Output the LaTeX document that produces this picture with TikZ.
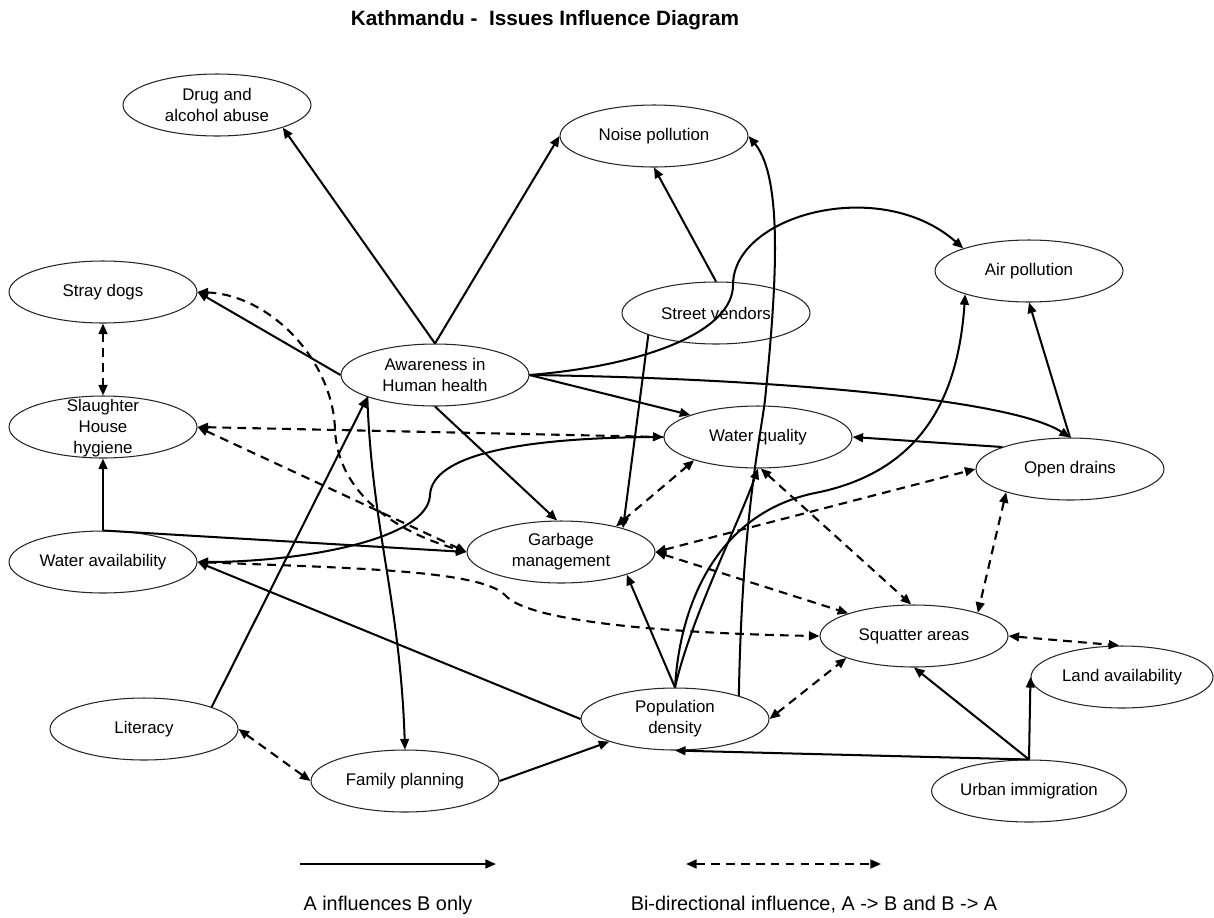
\documentclass[tikz,border=0pt]{standalone}
\usepackage{fontspec}
\setmainfont{Liberation Sans}
\usetikzlibrary{shapes.geometric,arrows.meta}
\tikzset{
    issue/.style = {ellipse, draw=black!85, line width=0.6pt, minimum width=3.76cm, minimum height=1.24cm,
                    inner sep=0pt, align=center, font=\fontsize{9.6}{11.9}\selectfont},
    infl/.style = {line width=1.15pt, -{Triangle[length=6pt,width=5pt]}},
    bidir/.style = {line width=1.2pt, dash pattern=on 5pt off 3.5pt,
                    {Triangle[length=6pt,width=5pt]}-{Triangle[length=6pt,width=5pt]}},
    legend/.style = {font=\fontsize{11.3}{13.5}\selectfont}
}

\begin{document}
\begin{tikzpicture}[x=0.02cm, y=-0.02cm]
        \useasboundingbox (0,0) rectangle (1214,917);

        \node[font=\bfseries\fontsize{11.8}{14}\selectfont] (title) at (545,20) {Kathmandu -\ \ Issues Influence Diagram};

        % issues
        \node[issue] (drug) at (217,105) {Drug and\\alcohol abuse};
        \node[issue] (noise) at (654,136) {Noise pollution};
        \node[issue] (stray) at (103,292) {Stray dogs};
        \node[issue] (slaughter) at (103,427) {};
        \node[align=center, font=\fontsize{9.6}{11.9}\selectfont] (slaughtertxt) at (103,428) {Slaughter\\House\\hygiene};
        \node[issue] (wavail) at (103,562) {Water availability};
        \node[issue] (aware) at (435,375) {Awareness in\\Human health};
        \node[issue] (garbage) at (561,552) {Garbage\\management};
        \node[issue] (vendors) at (716,313) {Street vendors};
        \node[issue] (air) at (1029,271) {Air pollution};
        \node[issue] (wquality) at (758,437) {Water quality};
        \node[issue] (drains) at (1070,469) {Open drains};
        \node[issue] (squatter) at (914,636) {Squatter areas};
        \node[issue, minimum width=3.64cm] (land) at (1122,677) {Land availability};
        \node[issue] (urban) at (1029,791) {Urban immigration};
        \node[issue] (pop) at (675,719) {Population\\density};
        \node[issue] (literacy) at (144,729) {Literacy};
        \node[issue] (family) at (405,781) {Family planning};

        % one way
        \draw[infl] (aware.90) -- (drug.-19);
        \draw[infl] (aware.90) -- (noise.180);
        \draw[infl] (aware.180) -- (stray.0);
        \draw[infl] (aware.east) -- (wquality.162);
        \draw[infl] (aware.east) .. controls (650,365) and (733,330) .. (733,285) .. controls (733,215) and (880,175) .. (air.161);
        \draw[infl] (aware.east) .. controls (760,378) and (1010,398) .. (drains.90);
        \draw[infl] (aware.-90) -- (garbage.97);
        \draw[infl] (aware.-162) .. controls (372,530) and (400,600) .. (family.90);
        \draw[infl] (literacy.18) -- (aware.-162);
        \draw[infl] (family.0) -- (pop.-161);
        \draw[infl] (pop.180) -- (wavail.0);
        \draw[infl] (wquality.180) .. controls (520,437) and (432,455) .. (430,495) .. controls (428,540) and (300,562) .. (wavail.0);
        \draw[infl] (wavail.90) -- (slaughter.-90);
        \draw[infl] (wavail.90) -- (garbage.180);
        \draw[infl] (vendors.90) -- (noise.-90);
        \draw[infl] (vendors.-162) -- (garbage.21);
        \draw[infl] (pop.20) .. controls (742,520) and (760,440) .. (765,400) .. controls (775,300) and (785,180) .. (noise.0);
        \draw[infl] (pop.90) -- (garbage.-19);
        \draw[infl] (pop.90) .. controls (690,620) and (740,520) .. (wquality.-90);
        \draw[infl] (pop.90) .. controls (680,600) and (720,510) .. (820,492) .. controls (920,470) and (958,400) .. (air.-160);
        \draw[infl] (drains.90) -- (air.-90);
        \draw[infl] (drains.162) -- (wquality.0);
        \draw[infl] (urban.90) -- (squatter.-90);
        \draw[infl] (urban.90) -- (land.180);
        \draw[infl] (urban.90) -- (pop.-90);

        % both ways
        \draw[bidir] (stray.-90) -- (slaughter.90);
        \draw[bidir] (stray.0) .. controls (270,295) and (333,360) .. (335,430) .. controls (338,490) and (390,530) .. (garbage.180);
        \draw[bidir] (slaughter.0) -- (wquality.180);
        \draw[bidir] (slaughter.0) -- (garbage.180);
        \draw[bidir] (wavail.0) .. controls (350,568) and (480,570) .. (505,595) .. controls (530,625) and (700,634) .. (squatter.180);
        \draw[bidir] (garbage.25) -- (wquality.-160);
        \draw[bidir] (garbage.0) -- (drains.180);
        \draw[bidir] (garbage.0) -- (squatter.161);
        \draw[bidir] (wquality.-85) -- (squatter.95);
        \draw[bidir] (drains.-160) -- (squatter.20);
        \draw[bidir] (pop.0) -- (squatter.-162);
        \draw[bidir] (squatter.0) -- (land.95);
        \draw[bidir] (literacy.0) -- (family.180);

        % legend
        \coordinate (solidA) at (300,864);
        \coordinate (solidB) at (496,864);
        \coordinate (dashA) at (686,864);
        \coordinate (dashB) at (881,864);
        \draw[infl] (solidA) -- (solidB);
        \draw[bidir] (dashA) -- (dashB);
        \node[legend] (solidtxt) at (388,905) {A influences B only};
        \node[legend] (dashtxt) at (814,905) {Bi-directional influence, A -> B and B -> A};
\end{tikzpicture}
\end{document}
